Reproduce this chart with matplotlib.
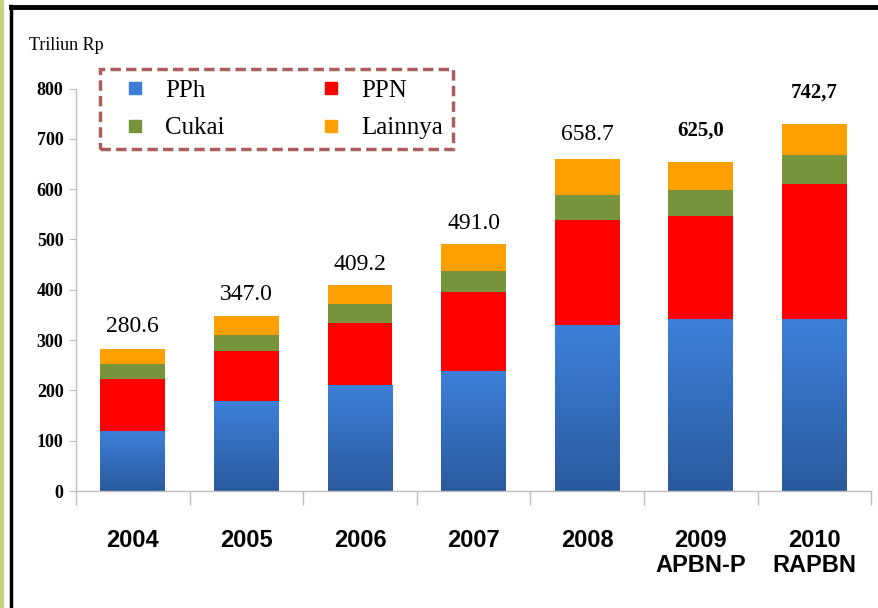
import numpy as np
import matplotlib.pyplot as plt
from matplotlib.patches import Rectangle
from matplotlib.lines import Line2D
from matplotlib.colors import LinearSegmentedColormap

plt.rcParams['font.family'] = ['Liberation Serif', 'DejaVu Serif']

years = ['2004', '2005', '2006', '2007', '2008', '2009\nAPBN-P', '2010\nRAPBN']
pph = [119, 177, 210, 238, 329, 341, 341]
ppn = [104, 101, 123, 157, 210, 205, 269]
cukai = [29, 33, 38, 43, 50, 53, 57]
lainnya = [30, 36, 38, 53, 70, 54, 63]
total_labels = ['280.6', '347.0', '409.2', '491.0', '658.7', '625,0', '742,7']
label_bold = [False, False, False, False, False, True, True]
yticks = [0, 100, 200, 300, 400, 500, 600, 700, 800]

c_pph = '#3b7dd6'
c_ppn = '#ff0000'
c_cukai = '#77933c'
c_lain = '#ff9f00'

fig = plt.figure(figsize=(8.79, 6.08), dpi=100)
ax = fig.add_axes([0.0865, 0.1924, 0.9045, 0.662])

x = np.arange(len(years))
w = 0.57
b1 = np.array(pph)
b2 = b1 + np.array(ppn)
b3 = b2 + np.array(cukai)
b4 = b3 + np.array(lainnya)

bars = ax.bar(x, pph, w, color=c_pph, zorder=2)
ax.bar(x, ppn, w, bottom=b1, color=c_ppn, zorder=2)
ax.bar(x, cukai, w, bottom=b2, color=c_cukai, zorder=2)
ax.bar(x, lainnya, w, bottom=b3, color=c_lain, zorder=2)

# vertical gradient on the PPh bars (darker at the bottom)
cmap = LinearSegmentedColormap.from_list('pphgrad', ['#2a5a9c', '#3d80da'])
grad = np.linspace(0, 1, 100).reshape(-1, 1)
for p in bars:
    x0 = p.get_x()
    ax.imshow(grad, cmap=cmap, extent=[x0, x0 + p.get_width(), 0, p.get_height()],
              origin='lower', aspect='auto', zorder=2.5, interpolation='bicubic')

# value labels on top of the bars
offsets = [23, 22, 21, 20, 25, 32, 31]
for i in range(len(years)):
    ax.annotate(total_labels[i], (x[i], b4[i]), xytext=(0, offsets[i] * 0.72),
                textcoords='offset points', ha='center', va='center',
                fontsize=15 if label_bold[i] else 17,
                fontweight='bold' if label_bold[i] else 'normal',
                annotation_clip=False, zorder=4)

ax.set_xlim(-0.5, len(years) - 0.5)
ax.set_ylim(0, 800)
ax.set_yticks(yticks)
ax.set_yticklabels([str(v) for v in yticks], fontsize=13, fontweight='bold')
ax.tick_params(axis='y', length=5, color='#bfbfbf', pad=4)

ax.set_xticks(x)
ax.set_xticklabels(years, fontsize=17, fontweight='bold',
                   family=['Liberation Sans Narrow', 'Liberation Sans'],
                   linespacing=1.15)
ax.tick_params(axis='x', length=0, pad=27)
ax.set_xticks(np.arange(-0.5, len(years)), minor=True)
ax.tick_params(axis='x', which='minor', length=10, color='#bfbfbf', width=1)

for s in ['top', 'right']:
    ax.spines[s].set_visible(False)
for s in ['left', 'bottom']:
    ax.spines[s].set_color('#bfbfbf')
    ax.spines[s].set_linewidth(1)
ax.spines['left'].set_bounds(0, 800)

fig.text(29 / 879, 1 - 45 / 608, 'Triliun Rp', fontsize=13, ha='left', va='center')

# column-wise fill: PPh / Cukai left, PPN / Lainnya right
def sq(c):
    return Line2D([], [], ls='none', marker='s', markersize=8, color=c)

handles = [sq(c_pph), sq(c_cukai), sq(c_ppn), sq(c_lain)]
names = ['PPh', 'Cukai', 'PPN', 'Lainnya']
leg = fig.legend(handles, names, ncol=2, loc='upper left',
                 bbox_to_anchor=(100 / 879, 1 - 70 / 608, 353 / 879, 0.001),
                 mode='expand', prop={'family': 'Liberation Serif', 'size': 18},
                 frameon=True, fancybox=False,
                 handlelength=2.0, handletextpad=0.2,
                 labelspacing=0.6, borderpad=0.4, borderaxespad=0)
frame = leg.get_frame()
frame.set_edgecolor('#953735')
frame.set_linestyle((0, (3, 1.5)))
frame.set_linewidth(2.5)

# slide-style frame
fig.add_artist(Rectangle((0, 0), 3 / 879, 1, transform=fig.transFigure,
                         color='#c9d37f', zorder=0))
fig.add_artist(Line2D([11 / 879, 11 / 879], [0, 1 - 6 / 608], transform=fig.transFigure,
                      color='black', lw=2.5))
fig.add_artist(Line2D([11 / 879, 1], [1 - 7 / 608, 1 - 7 / 608], transform=fig.transFigure,
                      color='black', lw=3.5))

fig.savefig('out.png', dpi=100)
